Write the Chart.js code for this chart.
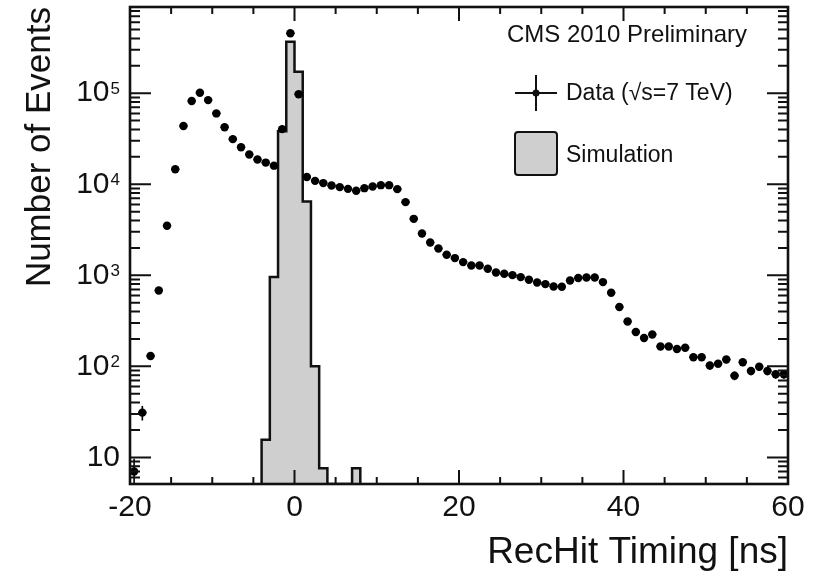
<!DOCTYPE html>
<html>
<head>
<meta charset="utf-8">
<script src="https://cdn.jsdelivr.net/npm/chart.js@4.4.1/dist/chart.umd.min.js"></script>
<style>
  html, body { margin: 0; padding: 0; background: #fff; }
  canvas { display: block; }
</style>
</head>
<body>
<canvas id="chart" width="817" height="575"></canvas>
<script>
// 1 ns bins, -20 .. 60 ns
const binCenters = [
  -19.5, -18.5, -17.5, -16.5, -15.5, -14.5, -13.5, -12.5, -11.5, -10.5,
  -9.5, -8.5, -7.5, -6.5, -5.5, -4.5, -3.5, -2.5, -1.5, -0.5,
  0.5, 1.5, 2.5, 3.5, 4.5, 5.5, 6.5, 7.5, 8.5, 9.5,
  10.5, 11.5, 12.5, 13.5, 14.5, 15.5, 16.5, 17.5, 18.5, 19.5,
  20.5, 21.5, 22.5, 23.5, 24.5, 25.5, 26.5, 27.5, 28.5, 29.5,
  30.5, 31.5, 32.5, 33.5, 34.5, 35.5, 36.5, 37.5, 38.5, 39.5,
  40.5, 41.5, 42.5, 43.5, 44.5, 45.5, 46.5, 47.5, 48.5, 49.5,
  50.5, 51.5, 52.5, 53.5, 54.5, 55.5, 56.5, 57.5, 58.5, 59.5
];
const dataCounts = [
  7, 31, 130, 680, 3500, 14600, 43700, 82000, 101000, 84000,
  60000, 42300, 31300, 25500, 21200, 18700, 17300, 16000, 40300, 456000,
  97500, 12000, 10900, 10300, 9700, 9300, 8900, 8500, 9060, 9440,
  9770, 9770, 8840, 6360, 4170, 2880, 2290, 1970, 1680, 1545,
  1396, 1281, 1281, 1178, 1074, 1038, 1004, 955, 893, 834,
  800, 754, 748, 875, 935, 946, 946, 842, 643, 448,
  311, 238, 205, 224, 165, 165, 155, 160, 126, 126,
  102, 107, 119, 79, 111, 89, 99, 89, 82, 82
];

// simulation histogram (bin edges and contents)
const simEdges = [-4, -3, -2, -1, 0, 1, 2, 3, 4, 5, 6, 7, 8];
const simCounts = [15.6, 955, 38300, 368000, 172600, 6460, 100, 7.6, 0, 0, 0, 7.6];

const xTicks = [-20, 0, 20, 40, 60];
const yTicks = [10, 100, 1000, 10000, 100000];
const yTickExp = ['', '2', '3', '4', '5'];

const Y_MIN = 5.1;
const Y_MAX = 8.85e5;
const FONT = '"Liberation Sans", Arial, Helvetica, sans-serif';
const INK = '#111';

Chart.defaults.font.family = FONT;
Chart.defaults.color = INK;

const dataPoints = binCenters.map((x, i) => ({ x: x, y: dataCounts[i] }));

// step outline: up from the floor at the first edge, down to the floor at the last
const simPoints = [{ x: simEdges[0], y: Y_MIN }];
simCounts.forEach((c, i) => simPoints.push({ x: simEdges[i], y: Math.max(c, Y_MIN) }));
simPoints.push({ x: simEdges[simEdges.length - 1], y: Y_MIN });

// statistical error bars on the data points
const errorBars = {
  id: 'errorBars',
  afterDatasetsDraw(chart) {
    const { ctx, chartArea: a, scales: { x, y } } = chart;
    ctx.save();
    ctx.beginPath();
    ctx.rect(a.left, a.top, a.right - a.left, a.bottom - a.top);
    ctx.clip();
    ctx.strokeStyle = '#000';
    ctx.lineWidth = 1.6;
    ctx.beginPath();
    dataPoints.forEach(p => {
      const err = Math.sqrt(p.y);
      const px = x.getPixelForValue(p.x);
      const py = y.getPixelForValue(p.y);
      ctx.moveTo(px, y.getPixelForValue(p.y + err));
      ctx.lineTo(px, y.getPixelForValue(Math.max(p.y - err, 0.01)));
      ctx.moveTo(x.getPixelForValue(p.x - 0.5), py);
      ctx.lineTo(x.getPixelForValue(p.x + 0.5), py);
    });
    ctx.stroke();
    ctx.restore();
  }
};

// ROOT-like frame with inward ticks on all four sides, plus y labels with exponents
const frameTicks = {
  id: 'frameTicks',
  afterDraw(chart) {
    const { ctx, chartArea: a, scales: { x, y } } = chart;
    ctx.save();
    ctx.strokeStyle = INK;
    ctx.lineWidth = 2;
    ctx.beginPath();
    for (let v = -20; v <= 60; v += 5) {
      const px = x.getPixelForValue(v);
      const len = v % 20 === 0 ? 14 : 7;
      ctx.moveTo(px, a.bottom); ctx.lineTo(px, a.bottom - len);
      ctx.moveTo(px, a.top); ctx.lineTo(px, a.top + len);
    }
    for (let d = 1; d <= 1e5; d *= 10) {
      for (let m = 1; m <= 9; m++) {
        const v = m * d;
        if (v < Y_MIN || v > Y_MAX) continue;
        const py = y.getPixelForValue(v);
        const len = m === 1 ? 21 : 10;
        ctx.moveTo(a.left, py); ctx.lineTo(a.left + len, py);
        ctx.moveTo(a.right, py); ctx.lineTo(a.right - len, py);
      }
    }
    ctx.stroke();
    ctx.lineWidth = 2.6;
    ctx.strokeRect(a.left, a.top, a.right - a.left, a.bottom - a.top);

    // y tick labels: 10, 10^2 ...
    ctx.fillStyle = INK;
    const right = a.left - 10;
    yTicks.forEach((v, i) => {
      const py = y.getPixelForValue(v);
      let end = right;
      if (yTickExp[i]) {
        ctx.font = '17px ' + FONT;
        ctx.textAlign = 'right';
        ctx.textBaseline = 'alphabetic';
        ctx.fillText(yTickExp[i], right, py + 1);
        end = right - ctx.measureText(yTickExp[i]).width - 1;
      }
      ctx.font = '30px ' + FONT;
      ctx.textAlign = 'right';
      ctx.textBaseline = 'middle';
      ctx.fillText('10', end, py);
    });
    ctx.restore();
  }
};

// in-frame legend and label
const legendBox = {
  id: 'legendBox',
  afterDraw(chart) {
    const { ctx } = chart;
    ctx.save();
    ctx.fillStyle = INK;
    ctx.textAlign = 'left';
    ctx.textBaseline = 'middle';
    ctx.font = '24px ' + FONT;
    ctx.fillText('CMS 2010 Preliminary', 507, 35);

    ctx.font = '23px ' + FONT;
    ctx.strokeStyle = INK;
    ctx.lineWidth = 2;
    ctx.beginPath();
    ctx.moveTo(515, 93); ctx.lineTo(557, 93);
    ctx.moveTo(536, 75); ctx.lineTo(536, 111);
    ctx.stroke();
    ctx.beginPath();
    ctx.arc(536, 93, 3.5, 0, Math.PI * 2);
    ctx.fill();
    ctx.fillText('Data (\u221As=7 TeV)', 566, 94);

    ctx.fillStyle = '#cfcfcf';
    ctx.beginPath();
    ctx.roundRect(515, 132, 42, 43, 3);
    ctx.fill();
    ctx.stroke();
    ctx.fillStyle = INK;
    ctx.fillText('Simulation', 566, 156);
    ctx.restore();
  }
};

new Chart(document.getElementById('chart'), {
  type: 'scatter',
  data: {
    datasets: [
      {
        label: 'Data',
        data: dataPoints,
        backgroundColor: '#000',
        borderWidth: 0,
        pointRadius: 4.2,
        order: 0
      },
      {
        type: 'line',
        label: 'Simulation',
        data: simPoints,
        stepped: true,
        borderColor: INK,
        borderWidth: 2.5,
        backgroundColor: '#cfcfcf',
        fill: 'start',
        pointRadius: 0,
        order: 1
      }
    ]
  },
  options: {
    responsive: false,
    animation: false,
    devicePixelRatio: 1,
    layout: { padding: { top: 7, right: 29, left: 0, bottom: 0 } },
    plugins: { legend: { display: false }, tooltip: { enabled: false } },
    scales: {
      x: {
        type: 'linear',
        min: -20,
        max: 60,
        afterBuildTicks: s => { s.ticks = xTicks.map(v => ({ value: v })); },
        afterFit: s => { s.height = 91; },
        ticks: { font: { size: 30 }, color: INK, padding: -2, maxRotation: 0, autoSkip: false },
        grid: { display: false },
        border: { display: false },
        title: {
          display: true,
          text: 'RecHit Timing [ns]',
          align: 'end',
          color: INK,
          font: { size: 37 },
          padding: { top: 0, bottom: 0 }
        }
      },
      y: {
        type: 'logarithmic',
        min: Y_MIN,
        max: Y_MAX,
        afterFit: s => { s.width = 130; },
        ticks: { display: false },
        grid: { display: false },
        border: { display: false },
        title: {
          display: true,
          text: 'Number of Events',
          align: 'end',
          color: INK,
          font: { size: 35 },
          padding: { top: 19, bottom: 0 }
        }
      }
    }
  },
  plugins: [errorBars, frameTicks, legendBox]
});
</script>
</body>
</html>
